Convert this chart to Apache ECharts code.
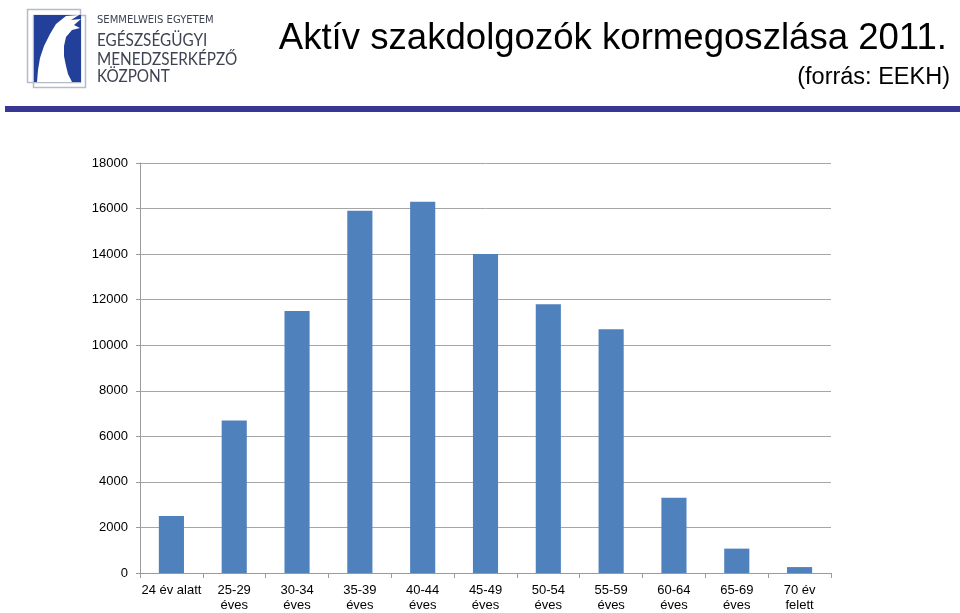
<!DOCTYPE html>
<html>
<head>
<meta charset="utf-8">
<script src="https://cdn.jsdelivr.net/npm/echarts@6/dist/echarts.min.js"></script>
<style>html,body{margin:0;padding:0;background:#fff;}#c{width:960px;height:613px;}</style>
</head>
<body>
<div id="c"></div>
<script>
const categories = ['24 év alatt', '25-29\néves', '30-34\néves', '35-39\néves', '40-44\néves', '45-49\néves', '50-54\néves', '55-59\néves', '60-64\néves', '65-69\néves', '70 év\nfelett'];
const values = [2500, 6700, 11500, 15900, 16300, 14000, 11800, 10700, 3300, 1070, 260];
const titleText = 'Aktív szakdolgozók kormegoszlása 2011.';
const subtitleText = '(forrás: EEKH)';
const logoLines = ['SEMMELWEIS EGYETEM', 'EGÉSZSÉGÜGYI', 'MENEDZSERKÉPZŐ', 'KÖZPONT'];

const chart = echarts.init(document.getElementById('c'), null, {renderer: 'canvas'});
const logoColor = '#3d4352';
const logoBlue = '#22409a';
function logoText(txt, y, size, sx, family) {
  return {type: 'group', x: 97, y: y, scaleX: sx, children: [
    {type: 'text', x: 0, y: 0, style: {text: txt, font: size + 'px ' + family, fill: logoColor, textVerticalAlign: 'middle'}}
  ]};
}
chart.setOption({
  animation: false,
  backgroundColor: '#fff',
  grid: {left: 140, right: 129, top: 163, bottom: 36, containLabel: false},
  xAxis: {
    type: 'category',
    data: categories,
    axisLine: {lineStyle: {color: '#9a9a9a', width: 1}},
    axisTick: {show: true, length: 5, lineStyle: {color: '#9a9a9a'}},
    axisLabel: {color: '#000', fontFamily: 'Liberation Sans, Arial', fontSize: 13, lineHeight: 15, margin: 10, interval: 0}
  },
  yAxis: {
    type: 'value', min: 0, max: 18000, interval: 2000,
    axisLine: {show: true, lineStyle: {color: '#9a9a9a'}},
    axisTick: {show: true, length: 4, lineStyle: {color: '#9a9a9a'}},
    splitLine: {lineStyle: {color: '#a6a6a6', width: 1}},
    axisLabel: {color: '#000', fontFamily: 'Liberation Sans, Arial', fontSize: 13, margin: 12, formatter: v => String(v)}
  },
  series: [{
    type: 'bar', data: values, barWidth: '40%',
    itemStyle: {color: '#4f81bd'}
  }],
  graphic: [
    {type: 'rect', shape: {x: 5, y: 106, width: 955, height: 6}, style: {fill: '#383894'}},
    {type: 'text', x: 947, y: 57.5, style: {text: titleText, font: '36.6px "Liberation Sans", Arial', fill: '#000', textAlign: 'right', textVerticalAlign: 'bottom'}},
    {type: 'text', x: 950, y: 90, style: {text: subtitleText, font: '23.5px "Liberation Sans", Arial', fill: '#000', textAlign: 'right', textVerticalAlign: 'bottom'}},
    {type: 'rect', shape: {x: 27.5, y: 9.5, width: 53, height: 73}, style: {fill: 'none', stroke: '#b4bccb', lineWidth: 1.5}},
    {type: 'rect', shape: {x: 33.5, y: 15.5, width: 52, height: 72}, style: {fill: 'none', stroke: '#b4bccb', lineWidth: 1.5}},
    {type: 'rect', shape: {x: 34, y: 15, width: 47, height: 67}, style: {fill: logoBlue}},
    {type: 'polygon', shape: {points: [[56,24],[66,16],[79,15],[71,20],[81,19],[74,25],[80,28],[72,30],[66,37],[64,46],[64,56],[66,66],[68,74],[72,82],[37,82],[38,70],[40,58],[44,46],[50,34]]}, style: {fill: '#fff'}},
    logoText(logoLines[0], 20, 10, 1.0, '"DejaVu Sans", sans-serif'),
    logoText(logoLines[1], 41, 17, 0.9, 'Lato, sans-serif'),
    logoText(logoLines[2], 60, 17, 0.9, 'Lato, sans-serif'),
    logoText(logoLines[3], 77, 17, 0.9, 'Lato, sans-serif')
  ]
});
</script>
</body>
</html>
